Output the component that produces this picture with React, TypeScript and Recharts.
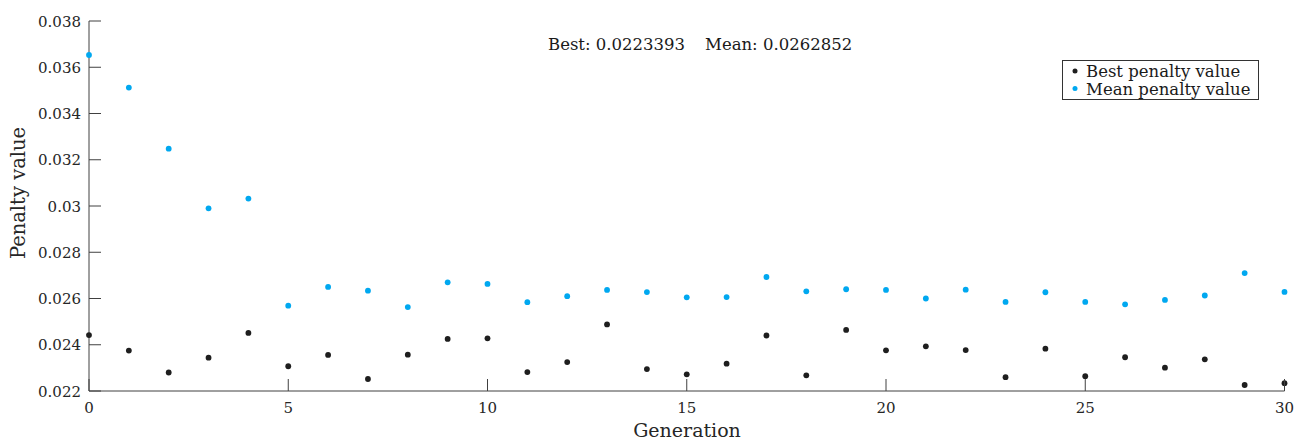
import { ScatterChart, Scatter, XAxis, YAxis, Legend } from "recharts";

const generations = [
  0, 1, 2, 3, 4, 5, 6, 7, 8, 9, 10, 11, 12, 13, 14, 15, 16, 17, 18, 19, 20,
  21, 22, 23, 24, 25, 26, 27, 28, 29, 30,
];

const bestPenalty = [
  0.02442, 0.02375, 0.0228, 0.02344, 0.02451, 0.02307, 0.02356, 0.02252,
  0.02357, 0.02425, 0.02428, 0.02282, 0.02325, 0.02488, 0.02295, 0.02272,
  0.02318, 0.0244, 0.02268, 0.02464, 0.02376, 0.02393, 0.02377, 0.0226,
  0.02383, 0.02264, 0.02346, 0.02301, 0.02337, 0.02226, 0.0223393,
];

const meanPenalty = [
  0.03653, 0.03512, 0.03248, 0.0299, 0.03032, 0.02569, 0.0265, 0.02634,
  0.02563, 0.0267, 0.02663, 0.02584, 0.0261, 0.02637, 0.02628, 0.02605,
  0.02606, 0.02693, 0.02631, 0.0264, 0.02637, 0.026, 0.02638, 0.02585,
  0.02627, 0.02585, 0.02575, 0.02594, 0.02613, 0.0271, 0.0262852,
];

const xTicks = [0, 5, 10, 15, 20, 25, 30];
const yTicks = [0.022, 0.024, 0.026, 0.028, 0.03, 0.032, 0.034, 0.036, 0.038];

const FONT = "'DejaVu Serif', serif";
const AXIS = "#404040";
const TEXT = "#262626";
const BLACK = "#1e1e1e";
const BLUE = "#00a8f0";

const bestData = generations.map((g, i) => ({ gen: g, value: bestPenalty[i] }));
const meanData = generations.map((g, i) => ({ gen: g, value: meanPenalty[i] }));

const fmt = (v: number) => String(Number(v.toFixed(3)));

const XTick = (props: any) => {
  const { x, y, payload } = props;
  return (
    <g>
      <line x1={x} y1={y} x2={x} y2={y - 12} stroke={AXIS} />
      <text x={x} y={y + 22} textAnchor="middle" fontFamily={FONT} fontSize={15} fill={TEXT}>
        {payload.value}
      </text>
    </g>
  );
};

const YTick = (props: any) => {
  const { x, y, payload } = props;
  return (
    <g>
      <line x1={x} y1={y} x2={x + 12} y2={y} stroke={AXIS} />
      <text x={x - 8} y={y + 5.5} textAnchor="end" fontFamily={FONT} fontSize={15} fill={TEXT}>
        {fmt(payload.value)}
      </text>
    </g>
  );
};

const dot = (color: string) => (p: any) =>
  <circle cx={p.cx} cy={p.cy} r={2.9} fill={color} />;

const LegendBox = (props: any) => {
  const items = props.payload || [];
  return (
    <svg width={198} height={40}>
      <rect x={0.5} y={0.5} width={196} height={39} fill="#fff" stroke="#333" />
      {items.map((it: any, i: number) => (
        <g key={i}>
          <circle cx={13} cy={11 + i * 17.5} r={2.5} fill={it.color} />
          <text x={24} y={17 + i * 18} fontFamily={FONT} fontSize={16.5} fill="#1a1a1a">
            {it.value}
          </text>
        </g>
      ))}
    </svg>
  );
};

export default function App() {
  const lastBest = bestPenalty[bestPenalty.length - 1];
  const lastMean = meanPenalty[meanPenalty.length - 1];
  return (
    <div style={{ position: "absolute", left: 0, top: 0 }}>
      <ScatterChart
        width={1296}
        height={443}
        margin={{ top: 21, right: 11.5, bottom: 0, left: 0 }}
      >
        <XAxis
          type="number"
          dataKey="gen"
          domain={[0, 30]}
          ticks={xTicks}
          height={52}
          tickSize={0}
          tickMargin={0}
          tickLine={false}
          axisLine={{ stroke: AXIS }}
          tick={<XTick />}
          interval={0}
        />
        <YAxis
          type="number"
          dataKey="value"
          domain={[0.022, 0.038]}
          ticks={yTicks}
          width={89}
          tickSize={0}
          tickMargin={0}
          tickLine={false}
          axisLine={{ stroke: AXIS }}
          tick={<YTick />}
          interval={0}
        />
        <Legend
          layout="horizontal"
          verticalAlign="middle"
          align="center"
          wrapperStyle={{ left: 1062, top: 60, width: 198, height: 40 }}
          content={<LegendBox />}
        />
        <Scatter
          name="Best penalty value"
          data={bestData}
          fill={BLACK}
          shape={dot(BLACK)}
          isAnimationActive={false}
        />
        <Scatter
          name="Mean penalty value"
          data={meanData}
          fill={BLUE}
          shape={dot(BLUE)}
          isAnimationActive={false}
        />
        <text x={548} y={50} fontFamily={FONT} fontSize={16.5} fill="#1a1a1a">
          {`Best: ${lastBest}`}
        </text>
        <text x={705} y={50} fontFamily={FONT} fontSize={16.5} fill="#1a1a1a">
          {`Mean: ${lastMean}`}
        </text>
        <text
          x={687}
          y={437}
          textAnchor="middle"
          fontFamily={FONT}
          fontSize={19}
          fill={TEXT}
        >
          Generation
        </text>
        <text
          transform="translate(25,193) rotate(-90)"
          textAnchor="middle"
          fontFamily={FONT}
          fontSize={19.5}
          fill={TEXT}
        >
          Penalty value
        </text>
      </ScatterChart>
    </div>
  );
}
